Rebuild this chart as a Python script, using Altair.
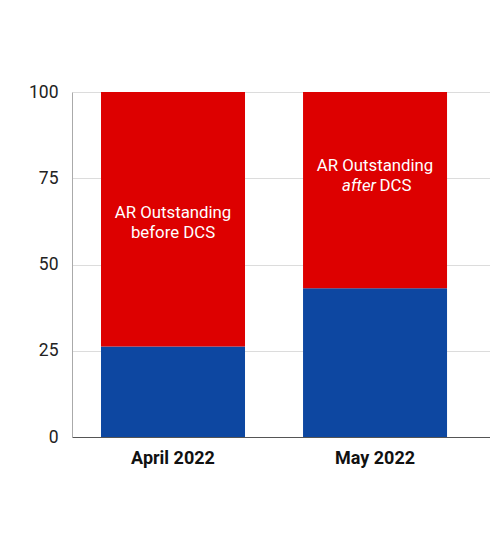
import altair as alt
import pandas as pd

months = ["April 2022", "May 2022"]
collected = [26.2, 43.1]          # blue (bottom) segment
outstanding = [73.8, 56.9]        # red (top) segment
segments = ["Collected", "AR Outstanding"]
seg_colors = ["#0D47A1", "#DD0000"]

# label anchor values (data units) for the in-bar annotations
label_y = [62.1, 75.7]

rows = []
for m, c, o in zip(months, collected, outstanding):
    rows.append({"month": m, "segment": segments[0], "value": c, "order": 0})
    rows.append({"month": m, "segment": segments[1], "value": o, "order": 1})
bars_df = pd.DataFrame(rows)

FONT = "Roboto"

x_scale = alt.Scale(domain=months, paddingInner=0.287, paddingOuter=0.178, align=0.403)
y_scale = alt.Scale(domain=[0, 100])

bars = alt.Chart(bars_df).mark_bar(size=144).encode(
    x=alt.X("month:N", scale=x_scale, sort=months,
            axis=alt.Axis(title=None, labelAngle=0, labelFont=FONT, labelFontSize=18,
                          labelFontWeight="bold", labelColor="#111", labelPadding=12,
                          ticks=False, domainColor="#555", domainWidth=1.2, grid=False)),
    y=alt.Y("sum(value):Q", stack="zero", scale=y_scale,
            axis=alt.Axis(title=None, values=[0, 25, 50, 75, 100], labelFont=FONT,
                          labelFontSize=17.5, labelColor="#222", labelPadding=14,
                          ticks=False, domainColor="#aaa", grid=True, gridColor="#dcdcdc")),
    color=alt.Color("segment:N", scale=alt.Scale(domain=segments, range=seg_colors), legend=None),
    order=alt.Order("order:Q"),
)

lbl_df = pd.DataFrame({"month": months, "y": label_y})
text_common = dict(color="white", font=FONT, fontSize=16.8, baseline="middle")
LH = 9.9

line1 = alt.Chart(lbl_df).mark_text(align="center", dy=-LH, **text_common).encode(
    x=alt.X("month:N", scale=x_scale, sort=months),
    y=alt.Y("y:Q", scale=y_scale),
    text=alt.value("AR Outstanding"),
)

apr_df = lbl_df[lbl_df["month"] == months[0]]
may_df = lbl_df[lbl_df["month"] == months[1]]

apr_line2 = alt.Chart(apr_df).mark_text(align="center", dy=LH, **text_common).encode(
    x=alt.X("month:N", scale=x_scale, sort=months),
    y=alt.Y("y:Q", scale=y_scale),
    text=alt.value("before DCS"),
)
may_after = alt.Chart(may_df).mark_text(align="right", dx=1, dy=LH, fontStyle="italic",
                                        **text_common).encode(
    x=alt.X("month:N", scale=x_scale, sort=months),
    y=alt.Y("y:Q", scale=y_scale),
    text=alt.value("after"),
)
may_dcs = alt.Chart(may_df).mark_text(align="left", dx=4.5, dy=LH, **text_common).encode(
    x=alt.X("month:N", scale=x_scale, sort=months),
    y=alt.Y("y:Q", scale=y_scale),
    text=alt.value("DCS"),
)

chart = alt.layer(bars, line1, apr_line2, may_after, may_dcs).properties(
    width=418, height=345,
    autosize=alt.AutoSizeParams(type="none"),
    padding={"left": 64, "top": 84, "right": 0, "bottom": 90},
    background="white",
).configure_view(stroke=None)

chart.save("out.html", embed_options={"renderer": "svg", "actions": False})
